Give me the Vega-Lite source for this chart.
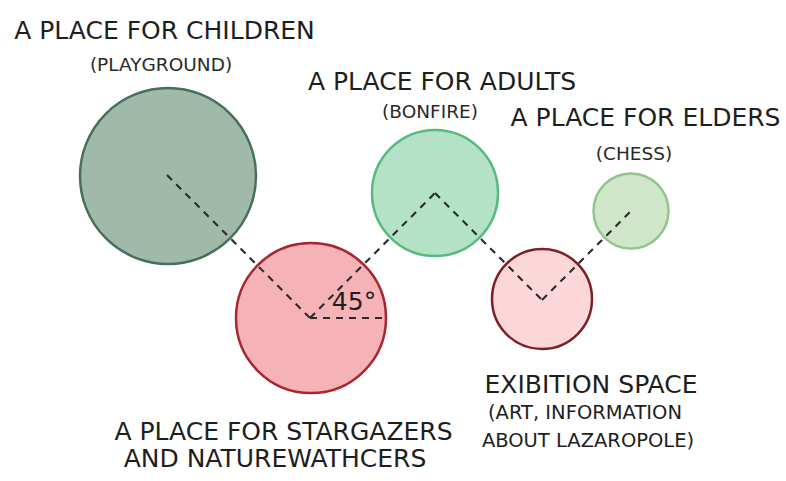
{
  "$schema": "https://vega.github.io/schema/vega-lite/v6.json",
  "width": 786,
  "height": 481,
  "autosize": {"type": "fit", "contains": "padding"},
  "padding": 0,
  "background": "white",
  "config": {"view": {"stroke": null}},
  "datasets": {
    "circles": [
      {"name": "Children", "x": 168, "y": 176, "r": 88},
      {"name": "Stargazers", "x": 311, "y": 318, "r": 75},
      {"name": "Adults", "x": 435, "y": 193, "r": 63},
      {"name": "Exhibition", "x": 542, "y": 299, "r": 50},
      {"name": "Elders", "x": 631, "y": 211, "r": 37.5}
    ],
    "links": [
      {"x": 167, "y": 175, "x2": 310, "y2": 318},
      {"x": 310, "y": 318, "x2": 435, "y2": 193},
      {"x": 435, "y": 193, "x2": 542, "y2": 300},
      {"x": 542, "y": 300, "x2": 632, "y2": 210},
      {"x": 310, "y": 318, "x2": 386, "y2": 318}
    ],
    "labels": [
      {"text": "A PLACE FOR CHILDREN", "x": 164.5, "y": 39, "role": "head"},
      {"text": "(PLAYGROUND)", "x": 161, "y": 71, "role": "sub"},
      {"text": "A PLACE FOR ADULTS", "x": 442, "y": 90, "role": "head"},
      {"text": "(BONFIRE)", "x": 430, "y": 118, "role": "sub"},
      {"text": "A PLACE FOR ELDERS", "x": 645.5, "y": 126, "role": "head"},
      {"text": "(CHESS)", "x": 634, "y": 160, "role": "sub"},
      {"text": "EXIBITION SPACE", "x": 591, "y": 393, "role": "head"},
      {"text": "(ART, INFORMATION", "x": 585, "y": 419, "role": "sub2"},
      {"text": "ABOUT LAZAROPOLE)", "x": 588, "y": 447, "role": "sub2"},
      {"text": "A PLACE FOR STARGAZERS", "x": 283.5, "y": 440, "role": "head"},
      {"text": "AND NATUREWATHCERS", "x": 275, "y": 467, "role": "head"},
      {"text": "45°", "x": 354, "y": 310, "role": "head"}
    ]
  },
  "layer": [
    {
      "data": {"name": "circles"},
      "mark": {"type": "point", "shape": "circle", "filled": true, "opacity": 1, "fillOpacity": 1, "strokeOpacity": 1, "strokeWidth": 2.5},
      "encoding": {
        "x": {"field": "x", "type": "quantitative", "scale": {"domain": [0, 786], "nice": false, "zero": false}, "axis": null},
        "y": {"field": "y", "type": "quantitative", "scale": {"domain": [0, 481], "nice": false, "zero": false, "reverse": true}, "axis": null},
        "size": {"field": "r", "type": "quantitative", "scale": {"type": "pow", "exponent": 2, "domain": [0, 100], "range": [0, 40000]}, "legend": null},
        "fill": {"field": "name", "type": "nominal", "legend": null, "scale": {"domain": ["Children", "Stargazers", "Adults", "Exhibition", "Elders"], "range": ["#a0b9a8", "#f6b3b7", "#b3e2c7", "#fbd7da", "#cfe6c9"]}},
        "stroke": {"field": "name", "type": "nominal", "legend": null, "scale": {"domain": ["Children", "Stargazers", "Adults", "Exhibition", "Elders"], "range": ["#46705a", "#a8272e", "#55bb7e", "#7e1f27", "#92c58a"]}}
      }
    },
    {
      "data": {"name": "links"},
      "mark": {"type": "rule", "color": "#2a2a2a", "strokeWidth": 2.1, "strokeDash": [7, 6]},
      "encoding": {
        "x": {"field": "x", "type": "quantitative"},
        "y": {"field": "y", "type": "quantitative"},
        "x2": {"field": "x2"},
        "y2": {"field": "y2"}
      }
    },
    {
      "data": {"name": "labels"},
      "transform": [{"filter": "datum.role == 'head'"}],
      "mark": {"type": "text", "font": "DejaVu Sans", "fontSize": 25, "color": "#1e1e1e", "align": "center", "baseline": "alphabetic"},
      "encoding": {
        "x": {"field": "x", "type": "quantitative"},
        "y": {"field": "y", "type": "quantitative"},
        "text": {"field": "text"}
      }
    },
    {
      "data": {"name": "labels"},
      "transform": [{"filter": "datum.role == 'sub'"}],
      "mark": {"type": "text", "font": "DejaVu Sans", "fontSize": 18.5, "color": "#2a2a2a", "align": "center", "baseline": "alphabetic"},
      "encoding": {
        "x": {"field": "x", "type": "quantitative"},
        "y": {"field": "y", "type": "quantitative"},
        "text": {"field": "text"}
      }
    },
    {
      "data": {"name": "labels"},
      "transform": [{"filter": "datum.role == 'sub2'"}],
      "mark": {"type": "text", "font": "DejaVu Sans", "fontSize": 19.5, "color": "#1e1e1e", "align": "center", "baseline": "alphabetic"},
      "encoding": {
        "x": {"field": "x", "type": "quantitative"},
        "y": {"field": "y", "type": "quantitative"},
        "text": {"field": "text"}
      }
    }
  ]
}
